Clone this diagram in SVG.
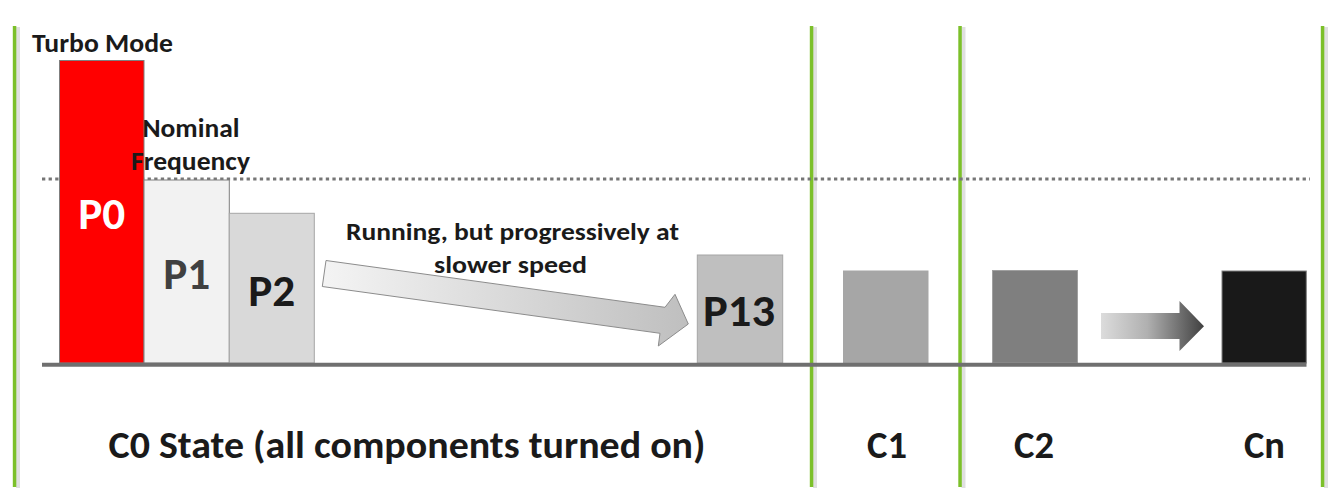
<svg xmlns="http://www.w3.org/2000/svg" width="1336" height="501" viewBox="0 0 1336 501">
<style>
  .t { font-family: "Carlito", "Liberation Sans", Arial, sans-serif; font-weight: bold; }
  .lbl { fill: #1a1a1a; font-size: 26px; }
  .run { fill: #1a1a1a; font-size: 24px; }
  .p { font-size: 45px; }
  .c { fill: #1a1a1a; font-size: 39px; }
  .green { fill: #7cc02a; }
  .gshadow { fill: #000; opacity: 0.12; }
</style>
<defs>
  <linearGradient id="g1" x1="0" y1="0" x2="1" y2="0">
    <stop offset="0" stop-color="#f4f4f4"/>
    <stop offset="1" stop-color="#bfbfbf"/>
  </linearGradient>
  <linearGradient id="g2" gradientUnits="userSpaceOnUse" x1="1101" y1="0" x2="1204" y2="0">
    <stop offset="0" stop-color="#dcdcdc"/>
    <stop offset="0.45" stop-color="#b0b0b0"/>
    <stop offset="1" stop-color="#404040"/>
  </linearGradient>
</defs>
<rect width="1336" height="501" fill="#fff"/>

<g id="dividers">
  <rect class="gshadow" x="16" y="27" width="4" height="461"/>
  <rect class="green" x="12.8" y="26" width="3.5" height="461"/>
  <rect class="gshadow" x="813" y="27" width="4" height="461"/>
  <rect class="green" x="809.8" y="26" width="3.5" height="461"/>
  <rect class="gshadow" x="961.5" y="27" width="4" height="461"/>
  <rect class="green" x="958.3" y="26" width="3.5" height="461"/>
  <rect class="gshadow" x="1324" y="27" width="4" height="461"/>
  <rect class="green" x="1320.8" y="26" width="3.5" height="461"/>
</g>

<g id="nominal-line">
  <line x1="42" y1="179" x2="1310" y2="179" stroke="#767676" stroke-width="3" stroke-dasharray="3.3 3.3"/>
</g>

<g id="P0">
  <rect x="59.5" y="60.5" width="84.5" height="302.5" fill="#ff0000" stroke="#7f7f7f" stroke-width="1"/>
  <text class="t p" x="101.7" y="229" text-anchor="middle" fill="#fff" textLength="47" lengthAdjust="spacingAndGlyphs">P0</text>
</g>
<g id="P1">
  <rect x="144" y="180" width="85.3" height="183" fill="#f2f2f2" stroke="#7f7f7f" stroke-width="1"/>
  <text class="t p" x="186.7" y="289" text-anchor="middle" fill="#404040" textLength="47" lengthAdjust="spacingAndGlyphs">P1</text>
</g>
<g id="P2">
  <rect x="229.3" y="213.3" width="85" height="149.7" fill="#d9d9d9" stroke="#a6a6a6" stroke-width="1"/>
  <text class="t p" x="271.7" y="306" text-anchor="middle" fill="#1a1a1a" textLength="47" lengthAdjust="spacingAndGlyphs">P2</text>
</g>
<g id="P13">
  <rect x="697.3" y="255" width="85.4" height="108" fill="#bfbfbf" stroke="#a6a6a6" stroke-width="1"/>
  <text class="t p" x="739" y="326" text-anchor="middle" fill="#1a1a1a" textLength="72" lengthAdjust="spacingAndGlyphs">P13</text>
</g>
<g id="C1-box">
  <rect x="843" y="270.5" width="85.5" height="92.5" fill="#a6a6a6"/>
</g>
<g id="C2-box">
  <rect x="992.5" y="270.5" width="85" height="92.5" fill="#7f7f7f" stroke="#a0a0a0" stroke-width="1"/>
</g>
<g id="Cn-box">
  <rect x="1222" y="271" width="84.3" height="92" fill="#191919" stroke="#808080" stroke-width="1"/>
</g>

<g id="baseline">
  <line x1="42" y1="364.8" x2="1306.5" y2="364.8" stroke="#6f6f6f" stroke-width="4"/>
</g>

<g id="connectors">
  <polygon points="326,260.5 322.3,286.5 660,333.3 658.3,346 688.3,324 675,294.3 665,307.3" fill="url(#g1)" stroke="#8c8c8c" stroke-width="1"/>
  <polygon points="1101,313 1179.5,313 1179.5,301 1204,326.2 1179.5,351 1179.5,339 1101,339" fill="url(#g2)"/>
</g>

<g id="labels">
  <text class="t lbl" x="32" y="52" textLength="141" lengthAdjust="spacingAndGlyphs">Turbo Mode</text>
  <text class="t lbl" x="191" y="137" text-anchor="middle" textLength="97" lengthAdjust="spacingAndGlyphs">Nominal</text>
  <text class="t lbl" x="190.5" y="170" text-anchor="middle" textLength="119" lengthAdjust="spacingAndGlyphs">Frequency</text>
  <text class="t run" x="512.5" y="240" text-anchor="middle" textLength="333" lengthAdjust="spacingAndGlyphs">Running, but progressively at</text>
  <text class="t run" x="510.5" y="272.5" text-anchor="middle" textLength="153" lengthAdjust="spacingAndGlyphs">slower speed</text>
</g>

<g id="state-labels">
  <text class="t c" x="407" y="458" text-anchor="middle" textLength="597" lengthAdjust="spacingAndGlyphs">C0 State (all components turned on)</text>
  <text class="t c" x="887" y="458" text-anchor="middle" textLength="40" lengthAdjust="spacingAndGlyphs">C1</text>
  <text class="t c" x="1034" y="458" text-anchor="middle" textLength="40" lengthAdjust="spacingAndGlyphs">C2</text>
  <text class="t c" x="1264.5" y="458" text-anchor="middle" textLength="41" lengthAdjust="spacingAndGlyphs">Cn</text>
</g>
</svg>
